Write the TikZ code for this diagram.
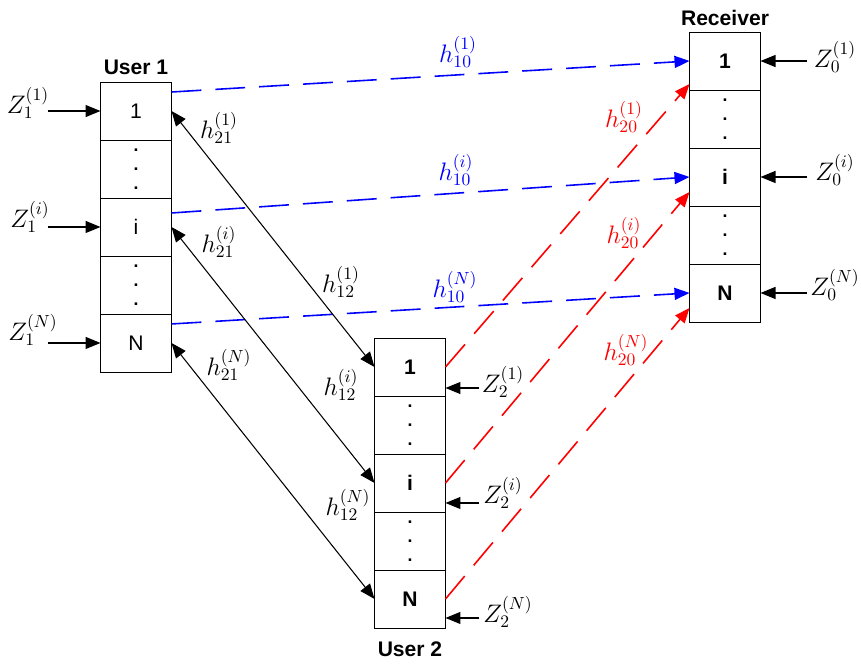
\documentclass[tikz,border=0pt]{standalone}
\usepackage{fontspec}
\setsansfont{Liberation Sans}
\usepackage{tikz}
\usetikzlibrary{arrows.meta, positioning}

\newcommand{\celldots}{.\\[-1.2pt].\\[-1.2pt].}

\begin{document}
\begin{tikzpicture}[
    x=0.02cm, y=-0.02cm,
    cell/.style={
        draw, fill=white, outer sep=0pt,
        minimum width=1.42cm, minimum height=1.16cm,
        font=\sffamily\large, align=center
    },
    bcell/.style={cell, font=\sffamily\bfseries\large},
    dotcell/.style={cell, font=\sffamily\bfseries},
    title/.style={font=\sffamily\bfseries\large},
    lbl/.style={font=\fontsize{14}{16}\selectfont},
    arr/.style={-{Triangle[length=3mm, width=2.4mm]}, line width=0.7pt},
    darr/.style={{Triangle[length=3mm, width=2.4mm]}-{Triangle[length=3mm, width=2.4mm]}, line width=0.6pt},
    direct/.style={arr, blue, line width=0.9pt, dash pattern=on 17pt off 8pt},
    relay/.style={arr, red, line width=0.9pt, dash pattern=on 17pt off 8pt}
]
    \useasboundingbox (0,0) rectangle (861,664);

    % Left: User 1 stack
    \node[cell] (u1-1) at (136, 111) {1};
    \node[dotcell, below=0pt of u1-1] (u1-d1) {\celldots};
    \node[cell, below=0pt of u1-d1] (u1-i) {i};
    \node[dotcell, below=0pt of u1-i] (u1-d2) {\celldots};
    \node[cell, below=0pt of u1-d2] (u1-N) {N};
    \node[title, above=0.5pt of u1-1] (user1) {User 1};

    % Middle: User 2 stack
    \node[bcell] (u2-1) at (410, 367) {1};
    \node[dotcell, below=0pt of u2-1] (u2-d1) {\celldots};
    \node[bcell, below=0pt of u2-d1] (u2-i) {i};
    \node[dotcell, below=0pt of u2-i] (u2-d2) {\celldots};
    \node[bcell, below=0pt of u2-d2] (u2-N) {N};
    \node[title, below=4.5pt of u2-N] (user2) {User 2};

    % Right: Receiver stack
    \node[bcell] (r-1) at (725, 61) {1};
    \node[dotcell, below=0pt of r-1] (r-d1) {\celldots};
    \node[bcell, below=0pt of r-d1] (r-i) {i};
    \node[dotcell, below=0pt of r-i] (r-d2) {\celldots};
    \node[bcell, below=0pt of r-d2] (r-N) {N};
    \node[title, above=0pt of r-1] (recv) {Receiver};

    % Noise inputs
    \node[lbl] (z1a) at (28, 103) {$Z_1^{(1)}$};
    \node[lbl] (z1b) at (30, 217) {$Z_1^{(i)}$};
    \node[lbl] (z1c) at (33, 330) {$Z_1^{(N)}$};
    \draw[arr] ([xshift=-1.06cm]u1-1.west) -- (u1-1);
    \draw[arr] ([xshift=-1.06cm]u1-i.west) -- (u1-i);
    \draw[arr] ([xshift=-1.06cm]u1-N.west) -- (u1-N);

    \node[lbl] (z2a) at (503, 382) {$Z_2^{(1)}$};
    \node[lbl] (z2b) at (503, 493) {$Z_2^{(i)}$};
    \node[lbl] (z2c) at (508, 612) {$Z_2^{(N)}$};
    \draw[arr] ([xshift=0.68cm, yshift=-0.42cm]u2-1.east) -- ([yshift=-0.42cm]u2-1.east);
    \draw[arr] ([xshift=0.68cm, yshift=-0.4cm]u2-i.east) -- ([yshift=-0.4cm]u2-i.east);
    \draw[arr] ([xshift=0.68cm, yshift=-0.38cm]u2-N.east) -- ([yshift=-0.38cm]u2-N.east);

    \node[lbl] (z0a) at (835, 57) {$Z_0^{(1)}$};
    \node[lbl] (z0b) at (835, 170) {$Z_0^{(i)}$};
    \node[lbl] (z0c) at (835, 285) {$Z_0^{(N)}$};
    \draw[arr] ([xshift=0.94cm]r-1.east) -- (r-1);
    \draw[arr] ([xshift=0.94cm]r-i.east) -- (r-i);
    \draw[arr] ([xshift=0.94cm]r-N.east) -- (r-N);

    % Direct links User 1 -> Receiver
    \draw[direct] ([yshift=0.38cm]u1-1.east) -- (r-1.west);
    \draw[direct] ([yshift=0.28cm]u1-i.east) -- (r-i.west);
    \draw[direct] ([yshift=0.38cm]u1-N.east) -- (r-N.west);
    \node[lbl, blue] (h10a) at (458, 52) {$h_{10}^{(1)}$};
    \node[lbl, blue] (h10b) at (456, 170) {$h_{10}^{(i)}$};
    \node[lbl, blue] (h10c) at (455, 287) {$h_{10}^{(N)}$};

    % Links between the users
    \draw[darr] (u1-1.east) -- (u2-1.west);
    \draw[darr] (u1-i.east) -- (u2-i.west);
    \draw[darr] (u1-N.east) -- (u2-N.west);
    \node[lbl] (h21a) at (219, 128) {$h_{21}^{(1)}$};
    \node[lbl] (h21b) at (219, 242) {$h_{21}^{(i)}$};
    \node[lbl] (h21c) at (229, 365) {$h_{21}^{(N)}$};
    \node[lbl] (h12a) at (341, 282) {$h_{12}^{(1)}$};
    \node[lbl] (h12b) at (341, 385) {$h_{12}^{(i)}$};
    \node[lbl] (h12c) at (348, 505) {$h_{12}^{(N)}$};

    % Relay links User 2 -> Receiver
    \draw[relay] (u2-1.east) -- ([yshift=-0.46cm]r-1.west);
    \draw[relay] (u2-i.east) -- ([yshift=-0.3cm]r-i.west);
    \draw[relay] (u2-N.east) -- ([yshift=-0.3cm]r-N.west);
    \node[lbl, red] (h20a) at (624, 117) {$h_{20}^{(1)}$};
    \node[lbl, red] (h20b) at (624, 233) {$h_{20}^{(i)}$};
    \node[lbl, red] (h20c) at (626, 350) {$h_{20}^{(N)}$};
\end{tikzpicture}
\end{document}
